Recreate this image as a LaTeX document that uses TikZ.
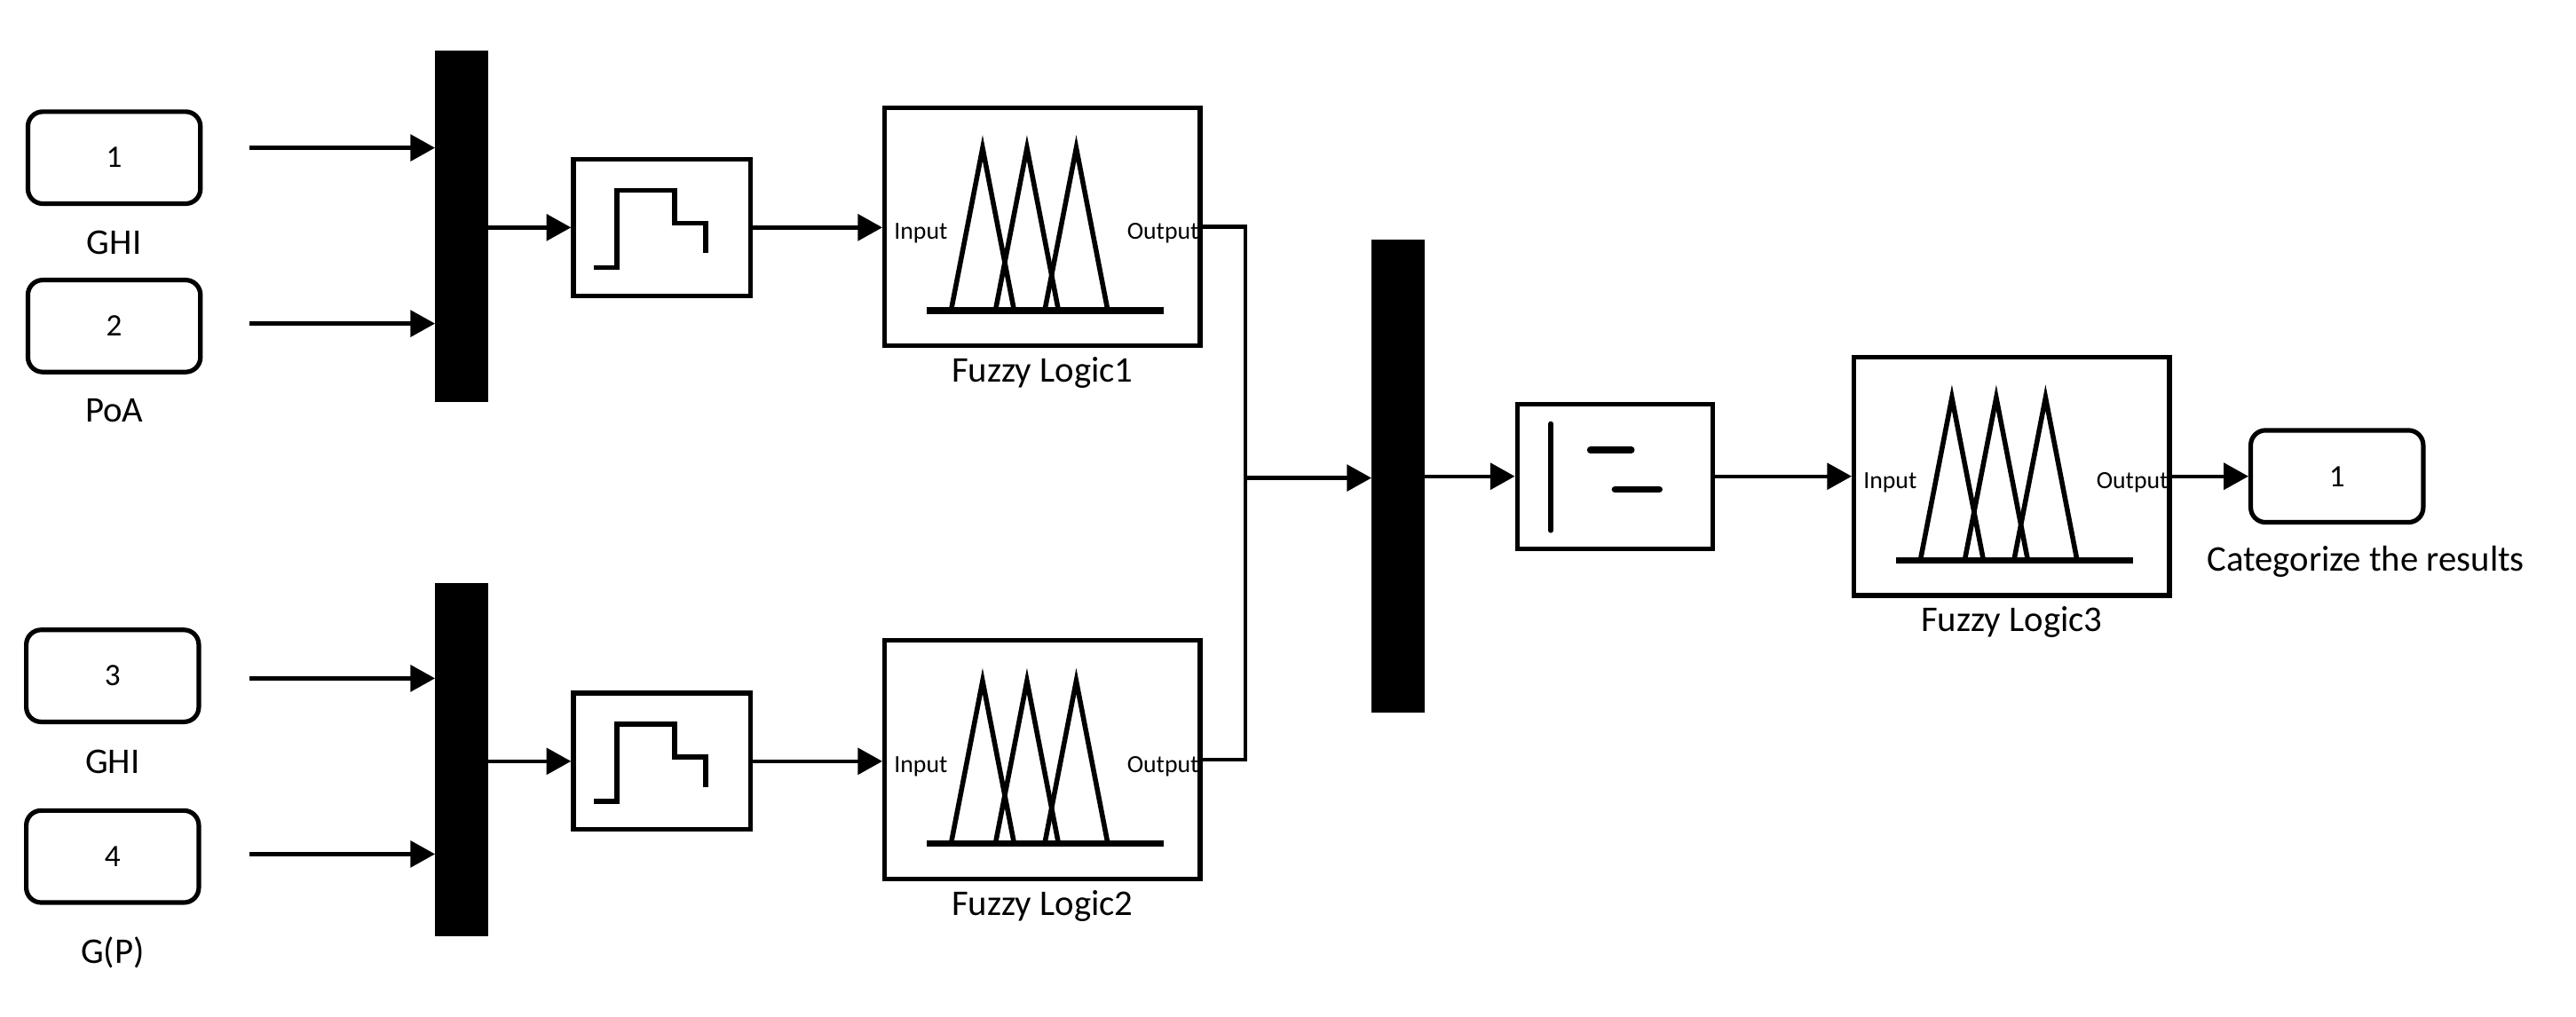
\documentclass[tikz,border=0pt]{standalone}
\usepackage{fontspec}
\setmainfont{Carlito}
\usetikzlibrary{arrows.meta,positioning}
\begin{document}
\begin{tikzpicture}[x=1pt,y=-1pt,
  blk/.style={draw,line width=2.8pt,inner sep=0pt,minimum width=#1},
  port/.style={draw,line width=2.8pt,rounded corners=9pt,minimum width=105pt,minimum height=56pt,font=\fontsize{19}{19}\selectfont},
  mux/.style={fill=black,minimum width=32pt,inner sep=0pt},
  lbl/.style={font=\fontsize{22}{22}\selectfont},
  small/.style={font=\fontsize{15}{15}\selectfont,inner sep=1pt},
  wire/.style={line width=2.4pt},
  arr/.style={wire,-{Triangle[length=15pt,width=16pt]}},
  icon/.style={line width=3pt}]
\useasboundingbox (0,0) rectangle (1568,619);
% inports
\node[port] (in1) at (69.5,96) {1};
\node[lbl] at (69.5,148) {GHI};
\node[port] (in2) at (69.5,198.5) {2};
\node[lbl] at (69.5,250) {PoA};
\node[port] (in3) at (68.5,411.5) {3};
\node[lbl] at (68.5,464) {GHI};
\node[port] (in4) at (68.5,521.5) {4};
\node[lbl] at (68.5,580) {G(P)};
% muxes
\node[mux,minimum height=214pt] (m1) at (281,138) {};
\node[mux,minimum height=215pt] (m2) at (281,462.5) {};
\node[mux,minimum height=288pt] (m3) at (851,290) {};
\coordinate (s1) at (152,90); \coordinate (s2) at (152,197);
\coordinate (s3) at (152,413); \coordinate (s4) at (152,520);
\draw[arr] (s1) -- (s1 -| m1.west);
\draw[arr] (s2) -- (s2 -| m1.west);
\draw[arr] (s3) -- (s3 -| m2.west);
\draw[arr] (s4) -- (s4 -| m2.west);
% quantizers
\foreach \n/\y in {q1/138.5,q2/463.5}{
  \node[blk=108pt,minimum height=83pt] (\n) at (403,\y) {};
  \draw[icon] ([shift={(14,24.5)}]\n.west) -- ++(14,0) -- ++(0,-47) -- ++(35,0) -- ++(0,20) -- ++(19,0) -- ++(0,18);
}
\draw[arr] (m1.east |- q1.west) -- (q1.west);
\draw[arr] (m2.east |- q2.west) -- (q2.west);
% fuzzy blocks
\foreach \n/\cx/\cy/\t in {f1/634.5/138/1,f2/634.5/462.5/2,f3/1224.5/290/3}{
  \node[blk=192pt,minimum height=145pt] (\n) at (\cx,\cy) {};
  \node[lbl,below=2pt of \n] {Fuzzy Logic\t};
  \begin{scope}[shift={(\n.north west)}]
    \foreach \p in {61,88,118}{\draw[icon,line join=miter] (\p-19,124) -- (\p,26) -- (\p+19,124);}
    \draw[line width=4pt] (27,125) -- (171,125);
  \end{scope}
  \node[small,anchor=west] at ([shift={(6,4)}]\n.west) {Input};
  \node[small,anchor=east] at ([shift={(-1,4)}]\n.east) {Output};
}
\draw[arr] (q1.east) -- (f1.west |- q1.east);
\draw[arr] (q2.east) -- (f2.west |- q2.east);
% merge
\coordinate (j) at (758,291);
\draw[wire] (f1.east) -- (f1.east -| j) -- (j);
\draw[wire] (f2.east) -- (f2.east -| j) -- (j);
\draw[arr] (j) -- (j -| m3.west);
% sign block
\node[blk=119pt,minimum height=88pt] (sg) at (983,290) {};
\draw[icon,line cap=round] (944,258) -- (944,323);
\draw[line width=4pt,line cap=round] (968,274) -- (993,274);
\draw[line width=4pt,line cap=round] (983,298) -- (1010,298);
\draw[arr] (m3.east |- sg.west) -- (sg.west);
\draw[arr] (sg.east) -- (f3.west |- sg.east);
% outport
\node[port] (out) at (1422.5,290) {1};
\node[lbl] at (1440,342) {Categorize the results};
\draw[arr] (f3.east) -- (out.west |- f3.east);
\end{tikzpicture}
\end{document}
